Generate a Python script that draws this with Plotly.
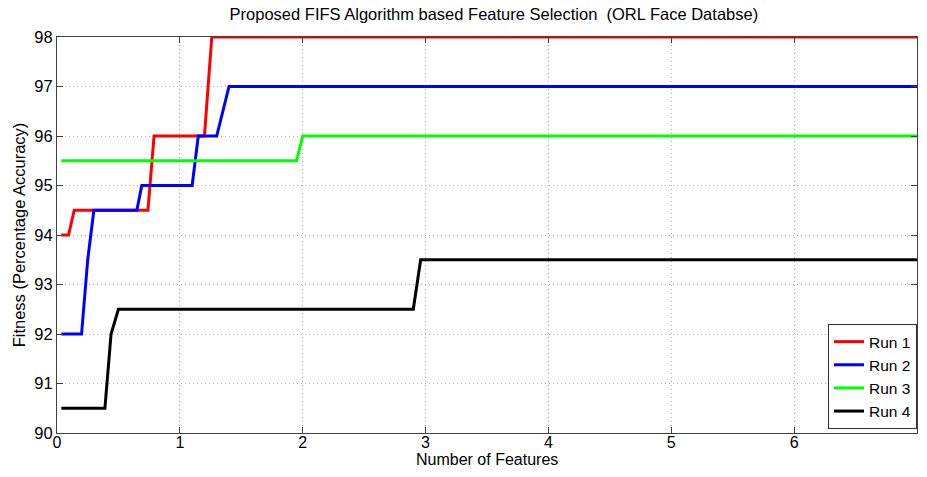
import plotly.graph_objects as go

# Data (step-like convergence curves)
run1_x = [0.035, 0.094, 0.14, 0.74, 0.79, 1.20, 1.26, 7.0]
run1_y = [94.0, 94.0, 94.5, 94.5, 96.0, 96.0, 98.0, 98.0]

run2_x = [0.035, 0.20, 0.25, 0.30, 0.65, 0.69, 1.10, 1.15, 1.30, 1.40, 7.0]
run2_y = [92.0, 92.0, 93.5, 94.5, 94.5, 95.0, 95.0, 96.0, 96.0, 97.0, 97.0]

run3_x = [0.035, 1.95, 2.00, 7.0]
run3_y = [95.5, 95.5, 96.0, 96.0]

run4_x = [0.035, 0.39, 0.44, 0.50, 2.90, 2.96, 7.0]
run4_y = [90.5, 90.5, 92.0, 92.5, 92.5, 93.5, 93.5]

series_names = ["Run 1", "Run 2", "Run 3", "Run 4"]
series_colors = ["#ff0000", "#0000ff", "#00ff00", "#000000"]

x_ticks = [0, 1, 2, 3, 4, 5, 6, 7]
y_ticks = [90, 91, 92, 93, 94, 95, 96, 97, 98]

fig = go.Figure()
for xs, ys, name, col in zip([run1_x, run2_x, run3_x, run4_x],
                             [run1_y, run2_y, run3_y, run4_y],
                             series_names, series_colors):
    fig.add_trace(go.Scatter(x=xs, y=ys, mode="lines", name=name,
                             line=dict(color=col, width=3), cliponaxis=False))

font_family = "Liberation Sans, Arial, sans-serif"

# The page body adds an 8px offset, so the figure is sized to fit the window
fig.update_layout(
    width=911, height=461,
    margin=dict(l=49, r=2, t=29, b=36, autoexpand=False),
    paper_bgcolor="white", plot_bgcolor="white",
    font=dict(family=font_family, size=16, color="black"),
    showlegend=True,
    legend=dict(x=1.0, y=0.01, xanchor="right", yanchor="bottom",
                bgcolor="white", bordercolor="#303030", borderwidth=1,
                font=dict(size=15.5, color="black"),
                tracegroupgap=0, itemwidth=30),
    title=dict(text="Proposed FIFS Algorithm based Feature Selection  (ORL Face Databse)",
               x=0.508, xref="paper", xanchor="center", y=0.999, yanchor="top",
               pad=dict(t=0, b=0),
               font=dict(size=16.5, color="black")),
)

fig.update_xaxes(range=[0, 7], tickvals=x_ticks, ticktext=[str(v) for v in x_ticks],
                 showline=True, linecolor="#404040", linewidth=1, mirror="ticks",
                 ticks="inside", ticklen=6, tickcolor="#404040",
                 showgrid=True, gridcolor="#b0b0b0", griddash="1px,3px", gridwidth=1,
                 zeroline=False, automargin=False, ticklabelstandoff=-5,
                 tickfont=dict(size=16))
fig.update_yaxes(range=[90, 98], tickvals=y_ticks, ticktext=[str(v) for v in y_ticks],
                 showline=True, linecolor="#404040", linewidth=1, mirror="ticks",
                 ticks="inside", ticklen=6, tickcolor="#404040",
                 showgrid=True, gridcolor="#b0b0b0", griddash="1px,3px", gridwidth=1,
                 zeroline=False, automargin=False,
                 title=dict(text="Fitness (Percentage Accuracy)", standoff=4, font=dict(size=16.5)),
                 tickfont=dict(size=16.5))

# x-axis title as a paper annotation pinned to the bottom edge
fig.add_annotation(text="Number of Features", xref="paper", yref="paper", x=0.5, y=0,
                   xanchor="center", yanchor="bottom", yshift=-36, borderpad=0,
                   showarrow=False, font=dict(size=16, color="black"))

fig.add_annotation(text="(a)", xref="paper", yref="paper", x=0.471, y=1,
                   xanchor="center", yanchor="bottom", yshift=30, showarrow=False,
                   font=dict(size=22, color="black"))

fig.write_html("out.html")
